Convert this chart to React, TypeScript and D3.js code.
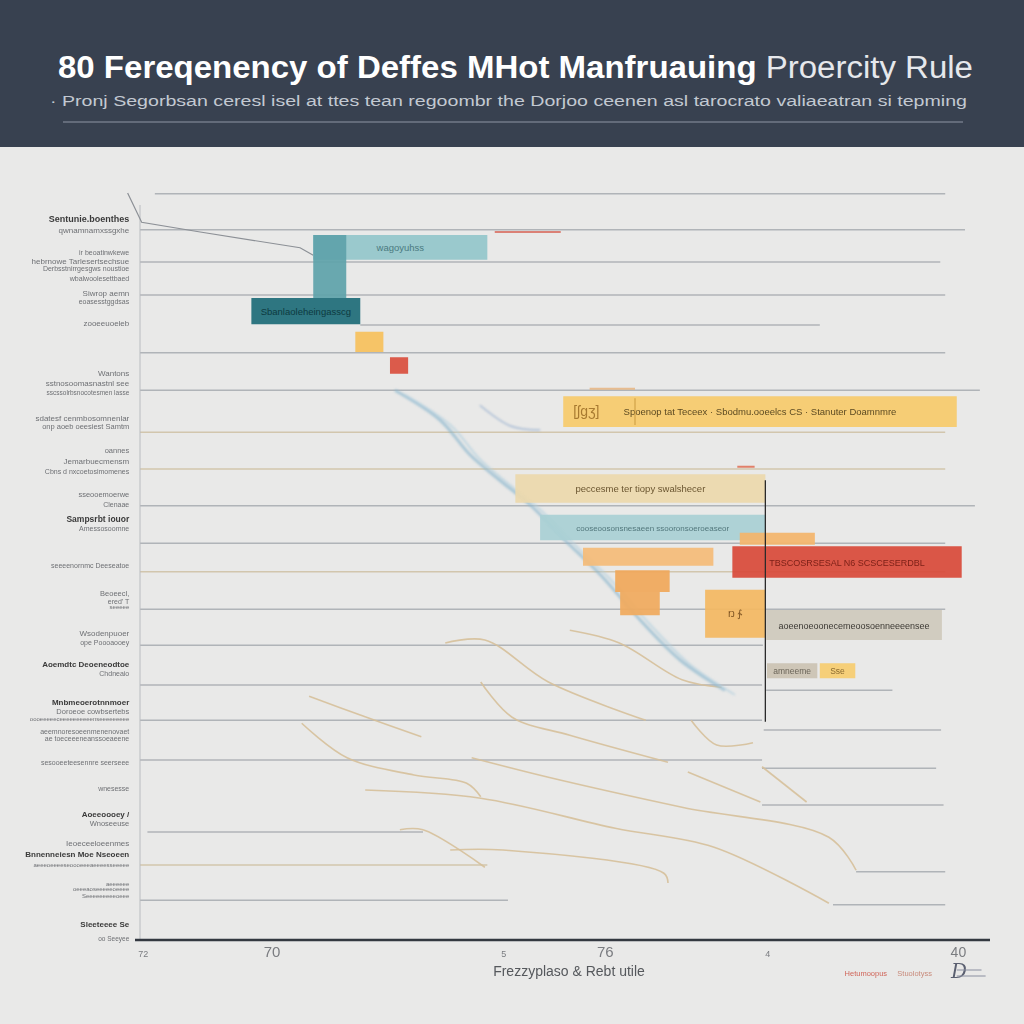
import * as d3 from 'd3';

const TITLE_BOLD = '80 Fereqenency of Deffes MHot Manfruauing';
const TITLE_LIGHT = 'Proercity Rule';
const SUBTITLE = 'Pronj Segorbsan ceresl isel at ttes tean regoombr the Dorjoo ceenen asl tarocrato valiaeatran si tepming';
const X_TITLE = 'Frezzyplaso & Rebt utile';

const X_TICK_VALUES = [0.4, 16, 44.1, 56.4, 76.1, 99.2];
const X_TICK_LABELS = ['72', '70', '5', '76', '4', '40'];
const X_TICK_SIZES = [9, 15, 9, 15, 9, 14];

// horizontal guide lines: y, start, end
const GRID_Y = [0.5, 5.3, 9.6, 14.0, 18.0, 21.7, 26.7, 32.3, 37.2, 42.1, 47.1, 50.9, 55.9, 60.7, 66.0, 66.7, 70.7, 72.0, 76.0, 77.1, 82.0, 85.6, 90.0, 90.9, 94.7, 95.3];
const GRID_X0 = [1.8, 0, 0, 0, 26.7, 0, 0, 0, 0, 0, 0, 0, 0, 0, 0, 75.9, 0, 75.6, 0, 75.4, 75.4, 0.9, 0, 86.8, 0, 84];
const GRID_X1 = [97.6, 100, 97, 97.6, 82.4, 97.6, 101.8, 97.6, 97.6, 101.2, 97.6, 97.6, 97.6, 75.5, 75.4, 91.2, 75.4, 97.1, 75.4, 96.5, 97.4, 34.3, 42.1, 97.6, 44.6, 97.6];
const GRID_TAN = [0, 0, 0, 0, 0, 0, 0, 1, 1, 0, 0, 1, 0, 0, 0, 0, 0, 0, 0, 0, 0, 0, 1, 0, 0, 0];

// short coloured accents on the guide lines
const ACCENT_X0 = [43.0, 72.4, 54.5];
const ACCENT_X1 = [51.0, 74.5, 60.0];
const ACCENT_Y = [5.6, 36.9, 26.5];
const ACCENT_COLORS = ['#d8685a', '#e0664a', '#e8b27a'];

// floating defect bars
const BAR_X0 = [21.0, 21.0, 13.5, 26.1, 30.3, 51.3, 45.5, 48.5, 72.7, 53.7, 71.8, 57.6, 58.2, 68.5, 75.9, 76.0, 82.4];
const BAR_X1 = [42.1, 25.0, 26.7, 29.5, 32.5, 99.0, 75.8, 75.8, 81.8, 69.5, 99.6, 64.2, 63.0, 75.8, 97.2, 82.1, 86.7];
const BAR_Y0 = [6.0, 6.0, 14.4, 18.9, 22.3, 27.5, 37.9, 43.3, 45.7, 47.7, 47.5, 50.7, 53.6, 53.3, 56.0, 63.1, 63.1];
const BAR_Y1 = [9.3, 14.4, 17.9, 21.6, 24.5, 31.6, 41.7, 46.7, 47.3, 50.1, 51.7, 53.6, 56.7, 59.7, 60.0, 65.1, 65.1];
const BAR_COLORS = ['#93c6ca', '#5fa2aa', '#1f6d78', '#f6c15c', '#d9503e', '#f6ca6c', '#ecd8ac', '#a9d0d4', '#f3b56c', '#f4bb78', '#d84a3a', '#f0a85a', '#f0aa5e', '#f3b862', '#cfc9bc', '#cbc3b3', '#f6cc70'];
const BAR_TEXT = ['wagoyuhss', '', 'Sbanlaoleheingasscg', '', '', 'Spoenop tat Teceex  ·  Sbodmu.ooeelcs CS  ·  Stanuter Doamnmre', 'peccesme ter tiopy swalshecer', 'cooseoosonsnesaeen  ssooronsoeroeaseor', '', '', 'TBSCOSRSESAL  N6 SCSCESERDBL', '', '', 'Ŋ  ∱', 'aoeenoeoonecemeoosoenneeeensee', 'amneeme', 'Sse'];
const BAR_TEXT_COLORS = ['#4a7a80', '', '#0d3a40', '', '', '#5c4a22', '#6a5530', '#52777c', '', '', '#7a1f16', '', '', '#7a5020', '#3d3a35', '#6a6458', '#8a6a30'];
const BAR_TEXT_SIZES = [9.5, 9.5, 9.5, 9.5, 9.5, 9.5, 9.5, 8, 9.5, 9.5, 9, 9.5, 9.5, 9.5, 9, 8.5, 8.5];

// tan trend traces
const TREND_X = [
  [20.5, 26.7, 34.1],
  [19.6, 25.1, 33.2, 39.6, 41.3],
  [27.3, 41.3, 57.6, 69.5, 83.5],
  [40.2, 49.5, 65.7, 83.5, 86.8],
  [41.3, 45.1, 52.1, 64.0],
  [37.0, 41.8, 49.5, 61.3],
  [52.1, 58.1, 65.7, 70.5],
  [66.8, 69.9, 74.3],
  [66.4, 75.2],
  [75.4, 80.8],
  [31.5, 34.3, 41.8],
  [37.6, 44.0, 63.5, 64.0],
];
const TREND_Y = [
  [67.5, 70.0, 72.9],
  [71.1, 75.7, 78.0, 79.1, 80.9],
  [80.0, 81.1, 85.1, 87.6, 95.1],
  [75.7, 78.3, 82.3, 86.3, 90.7],
  [65.6, 70.3, 72.7, 76.3],
  [60.4, 60.0, 65.6, 70.7],
  [58.7, 60.4, 65.3, 66.3],
  [70.7, 74.0, 73.7],
  [77.6, 81.6],
  [76.9, 81.6],
  [85.3, 85.3, 90.3],
  [88.0, 88.0, 91.1, 92.4],
];

// blue cumulative cascade
const CASCADE_X = [30.9, 36.4, 40.0, 43.6, 47.3, 51.5, 55.8, 60.6, 65.5, 70.9];
const CASCADE_Y = [26.7, 30.7, 35.3, 38.7, 42.0, 46.7, 51.3, 57.3, 62.7, 66.7];
const BRANCH_X = [41.2, 45.0, 48.5];
const BRANCH_Y = [28.7, 31.5, 32.0];

// decorative grey connector top-left
const CONNECTOR_X = [-1.5, 0.2, 7.3, 19.4, 21.0];
const CONNECTOR_Y = [0.4, 4.3, 5.6, 7.7, 8.7];

// category labels on the left
const LABEL_Y = [3.9, 5.3, 8.3, 9.5, 10.4, 11.7, 13.7, 14.8, 17.7, 24.4, 25.7, 26.9, 30.4, 31.5, 34.7, 36.1, 37.5, 40.5, 41.9, 43.9, 45.1, 50.0, 53.7, 54.8, 55.5, 59.1, 60.3, 63.2, 64.4, 68.3, 69.5, 70.4, 72.1, 73.1, 76.3, 79.7, 83.2, 84.4, 87.1, 88.5, 89.9, 92.4, 93.1, 94.0, 97.9, 99.7];
const LABEL_TEXT = ['Sentunie.boenthes', 'qwnamnamxssgxhe', 'ir beoatinwkewe', 'hebrnowe Tarlesertsechsue', 'Derbsstnirrgesgws noustioe', 'wbalwoolesettbaed', 'Siwrop aemn', 'eoasesstggdsas', 'zooeeuoeleb', 'Wantons', 'sstnosoomasnastnl see', 'sscssolrbsnocotesmen lasse', 'sdatesf cenmbosomnenlar', 'onp aoeb oeesiest Samtm', 'oannes', 'Jemarbuecmensm', 'Cbns d nxcoetosimomenes', 'sseooemoerwe', 'Clenaae', 'Sampsrbt iouor', 'Amessosoomne', 'seeeenornmc Deeseatoe', 'Beoeecl,', "ered' T", 'seeeee', 'Wsodenpuoer', 'ope Poooaooey', 'Aoemdtc Deoeneodtoe', 'Chdneaio', 'Mnbmeoerotnnmoer', 'Doroeoe cowbsertebs', 'oooeeeeeceeeeeeeeeenseeeeeeeee', 'aeemnoresoeenmenenovaet', 'ae toeceeeneanssoeaeene', 'sesooeeteesennre seerseee', 'wnesesse', 'Aoeeoooey /', 'Wnoseeuse', 'Ieoeceeloeenmes', 'Bnnenneiesn Moe Nseoeen', 'aeeeoeeeeseoooeeeaeeeesseeeee', 'aeeeeee', 'oeeeaoseeeeeoeeee', 'Seeeeeeeeeoeee', 'Sleeteeee Se', 'oo Seeyee'];
const LABEL_SIZE = [9, 8, 7, 8, 7, 7, 8, 7, 8, 8, 8, 6.5, 8, 7.5, 7.5, 8, 7, 7.5, 7, 8.5, 7, 7, 7.5, 7, 6, 8, 7, 8, 7, 8, 7.5, 6, 7, 7, 7, 7, 8, 7.5, 8, 8, 6, 6, 6, 6, 8, 6.5];
const LABEL_BOLD = [1, 0, 0, 0, 0, 0, 0, 0, 0, 0, 0, 0, 0, 0, 0, 0, 0, 0, 0, 1, 0, 0, 0, 0, 0, 0, 0, 1, 0, 1, 0, 0, 0, 0, 0, 0, 1, 0, 0, 1, 0, 0, 0, 0, 1, 0];

const LEGEND_TEXT = ['Hetumoopus', 'Stuolotyss'];

const W = 1024;
const H = 1024;
const FONT = '"Liberation Sans", Arial, sans-serif';

export default function App() {
  const x = d3.scaleLinear([0, 100], [140, 965]);
  const y = d3.scaleLinear([0, 100], [190, 940]);

  const trace = (xs: number[], ys: number[], curve: d3.CurveFactory = d3.curveCatmullRom) =>
    d3.line<number>()
      .x(i => x(xs[i]))
      .y(i => y(ys[i]))
      .curve(curve)(d3.range(xs.length)) ?? '';

  return (
    <svg width={W} height={H} viewBox={`0 0 ${W} ${H}`} style={{ position: 'absolute', left: 0, top: 0 }} fontFamily={FONT}>
      <defs>
        <filter id="soft" x="-5%" y="-20%" width="110%" height="140%">
          <feGaussianBlur stdDeviation="0.8" />
        </filter>
        <filter id="softer" x="-5%" y="-20%" width="110%" height="140%">
          <feGaussianBlur stdDeviation="0.5" />
        </filter>
      </defs>
      <rect width={W} height={H} fill="#e9e9e8" />

      {/* Header */}
      <rect width={W} height={147} fill="#384150" />
      <text x={58} y={78} fontSize={31} fill="#ffffff" textLength={915} lengthAdjust="spacingAndGlyphs">
        <tspan fontWeight={600}>{TITLE_BOLD} </tspan>
        <tspan fontWeight={300} fill="#e6e8ec">{TITLE_LIGHT}</tspan>
      </text>
      <text x={50} y={106} fontSize={15.5} fill="#c3c9d2" textLength={917} lengthAdjust="spacingAndGlyphs">
        {'· ' + SUBTITLE}
      </text>
      <line x1={63} x2={963} y1={122} y2={122} stroke="#8e96a3" strokeWidth={1.2} />

      {/* Guide lines */}
      {GRID_Y.map((gy, i) => (
        <line key={'g' + i} x1={x(GRID_X0[i])} x2={x(GRID_X1[i])} y1={y(gy)} y2={y(gy)}
          stroke={GRID_TAN[i] ? '#cfc1a3' : '#a7abb0'} strokeWidth={1.4} opacity={0.85} />
      ))}
      {ACCENT_Y.map((ay, i) => (
        <line key={'a' + i} x1={x(ACCENT_X0[i])} x2={x(ACCENT_X1[i])} y1={y(ay)} y2={y(ay)}
          stroke={ACCENT_COLORS[i]} strokeWidth={2} opacity={0.8} />
      ))}
      <line x1={x(0)} x2={x(0)} y1={y(2)} y2={y(100)} stroke="#b9bcc0" strokeWidth={1} />

      {/* decorative connector */}
      <path d={trace(CONNECTOR_X, CONNECTOR_Y, d3.curveLinear)} fill="none" stroke="#8c9096" strokeWidth={1.2} />

      {/* trend traces */}
      <g filter="url(#softer)">
        {TREND_X.map((xs, i) => (
          <path key={'t' + i} d={trace(xs, TREND_Y[i])} fill="none" stroke="#d6c09a" strokeWidth={1.6} opacity={0.9} />
        ))}
      </g>

      {/* cascade */}
      <g filter="url(#soft)">
        <path d={trace(CASCADE_X, CASCADE_Y)} fill="none" stroke="#8fb8cf" strokeWidth={3} opacity={0.7} />
        <path d={trace(CASCADE_X.map(v => v + 1.2), CASCADE_Y.map(v => v + 0.6))} fill="none" stroke="#b3d0de" strokeWidth={2} opacity={0.7} />
        <path d={trace(BRANCH_X, BRANCH_Y)} fill="none" stroke="#8aa6cc" strokeWidth={1.5} opacity={0.7} />
      </g>

      {/* Bars */}
      {BAR_X0.map((bx, i) => (
        <g key={'b' + i}>
          <rect x={x(bx)} y={y(BAR_Y0[i])} width={x(BAR_X1[i]) - x(bx)} height={y(BAR_Y1[i]) - y(BAR_Y0[i])}
            fill={BAR_COLORS[i]} opacity={0.93} />
          {BAR_TEXT[i] && (
            <text x={(x(bx) + x(BAR_X1[i])) / 2} y={(y(BAR_Y0[i]) + y(BAR_Y1[i])) / 2 + 3.5}
              textAnchor="middle" fontSize={BAR_TEXT_SIZES[i]} fill={BAR_TEXT_COLORS[i]}>
              {BAR_TEXT[i]}
            </text>
          )}
        </g>
      ))}
      {/* little code box inside the yellow bar */}
      <line x1={x(60)} x2={x(60)} y1={y(BAR_Y0[5]) + 2} y2={y(BAR_Y1[5]) - 2} stroke="#c99a40" strokeWidth={1} />
      <text x={x(52.5)} y={y(BAR_Y0[5]) + 20} fontSize={14} fill="#a87a30">[ʃgʒ]</text>

      {/* vertical marker */}
      <line x1={x(75.8)} x2={x(75.8)} y1={y(38.7)} y2={y(70.9)} stroke="#2b2b2b" strokeWidth={1.3} />

      {/* Left labels */}
      {LABEL_Y.map((ly, i) => (
        <text key={'l' + i} x={x(-1.3)} y={y(ly) + 3} textAnchor="end" fontSize={LABEL_SIZE[i]}
          fontWeight={LABEL_BOLD[i] ? 700 : 400} fill={LABEL_BOLD[i] ? '#3a3a3a' : '#6e7074'}>
          {LABEL_TEXT[i]}
        </text>
      ))}

      {/* X axis */}
      <line x1={135} x2={x(100) + 25} y1={y(100)} y2={y(100)} stroke="#333840" strokeWidth={2.5} />
      {X_TICK_VALUES.map((v, i) => (
        <text key={'x' + i} x={x(v)} y={y(100) + 17} textAnchor="middle" fontSize={X_TICK_SIZES[i]} fill="#7a7c80">
          {X_TICK_LABELS[i]}
        </text>
      ))}
      <text x={x(52)} y={y(100) + 36} textAnchor="middle" fontSize={14} fill="#55585c">{X_TITLE}</text>

      {/* Legend */}
      <text x={x(85.4)} y={y(100) + 36} fontSize={7.5} fill="#d0665a">{LEGEND_TEXT[0]}</text>
      <text x={x(91.8)} y={y(100) + 36} fontSize={7.5} fill="#c88a7a">{LEGEND_TEXT[1]}</text>
      <text x={x(98.3)} y={y(100) + 38} fontSize={20} fontStyle="italic" fill="#5a5f70" fontFamily="DejaVu Serif, serif">D</text>
      <line x1={x(99)} x2={x(102)} y1={y(100) + 30} y2={y(100) + 30} stroke="#8a8fa0" strokeWidth={1} />
      <line x1={x(99)} x2={x(102.5)} y1={y(100) + 36} y2={y(100) + 36} stroke="#8a8fa0" strokeWidth={1} />
    </svg>
  );
}
